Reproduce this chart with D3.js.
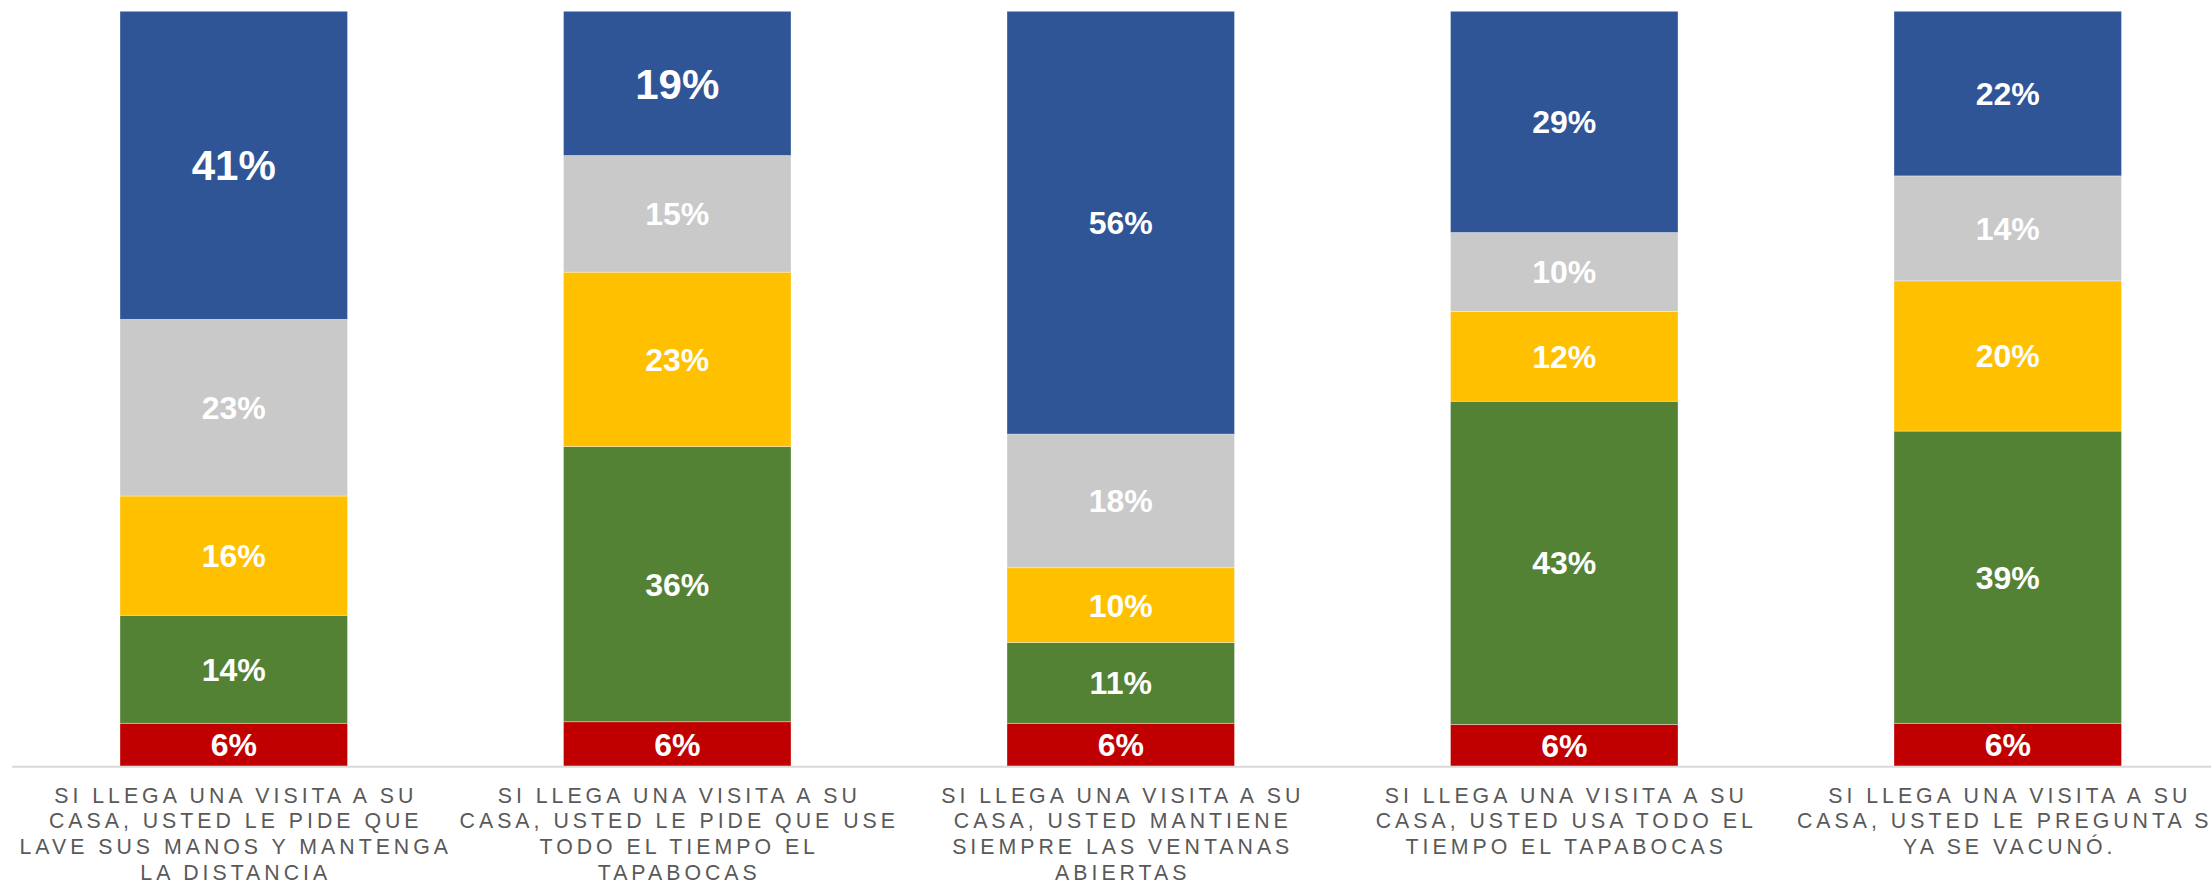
<!DOCTYPE html>
<html>
<head>
<meta charset="utf-8">
<script src="https://cdn.jsdelivr.net/npm/d3@7"></script>
<style>
  html, body { margin: 0; padding: 0; background: #ffffff; overflow: hidden; }
  svg { display: block; }
</style>
</head>
<body>
<svg id="chart"></svg>
<script>
// ---------- DATA ----------
const categories = ["c1", "c2", "c3", "c4", "c5"];
const categoryLabels = [
  ["SI LLEGA UNA VISITA A SU", "CASA, USTED LE PIDE QUE", "LAVE SUS MANOS Y MANTENGA", "LA DISTANCIA"],
  ["SI LLEGA UNA VISITA A SU", "CASA, USTED LE PIDE QUE USE", "TODO EL TIEMPO EL", "TAPABOCAS"],
  ["SI LLEGA UNA VISITA A SU", "CASA, USTED MANTIENE", "SIEMPRE LAS VENTANAS", "ABIERTAS"],
  ["SI LLEGA UNA VISITA A SU", "CASA, USTED USA TODO EL", "TIEMPO EL TAPABOCAS"],
  ["SI LLEGA UNA VISITA A SU", "CASA, USTED LE PREGUNTA SI", "YA SE VACUNÓ."]
];
// series, bottom to top (percent)
const seriesNames = ["rojo", "verde", "amarillo", "gris", "azul"];
const rojo     = [5.7, 5.9, 5.7, 5.55, 5.7];
const verde    = [14.3, 36.45, 10.7, 42.8, 38.7];
const amarillo = [15.8, 23.1, 9.9, 11.9, 19.9];
const gris     = [23.4, 15.45, 17.7, 10.45, 13.9];
const azul     = [40.8, 19.1, 56.0, 29.3, 21.8];

// ---------- STYLE ----------
const W = 2211, H = 883;
const colors = { rojo: "#C00000", verde: "#548235", amarillo: "#FFC000", gris: "#C9C9C9", azul: "#2F5597" };
const bigLabelKeys = new Set(["azul|c1", "azul|c2"]);

const rows = categories.map((c, i) => ({
  cat: c, rojo: rojo[i], verde: verde[i], amarillo: amarillo[i], gris: gris[i], azul: azul[i]
}));

const stacked = d3.stack().keys(seriesNames).offset(d3.stackOffsetExpand)(rows);

const svg = d3.select("#chart").attr("width", W).attr("height", H);

const x = d3.scaleBand().domain(categories)
  .range([12, 12 + 5 * 443.5])
  .paddingInner(0.487).paddingOuter(0.2435);
const y = d3.scaleLinear().domain([0, 1]).range([766.3, 11.3]);

const fmt = d3.format(".0%");

const layers = svg.append("g").selectAll("g.layer").data(stacked).join("g")
  .attr("class", "layer")
  .attr("fill", d => colors[d.key]);

layers.selectAll("rect").data(d => d.map(p => Object.assign(p, { key: d.key }))).join("rect")
  .attr("x", d => x(d.data.cat))
  .attr("width", x.bandwidth())
  .attr("y", d => y(d[1]))
  .attr("height", d => y(d[0]) - y(d[1]))
  .attr("stroke", "#ffffff")
  .attr("stroke-opacity", 0.45)
  .attr("stroke-width", 0.75);

// axis line
svg.append("line")
  .attr("x1", 12).attr("x2", W)
  .attr("y1", y(0) + 0.5).attr("y2", y(0) + 0.5)
  .attr("stroke", "#D9D9D9").attr("stroke-width", 2);

// data labels
const labels = svg.append("g");
stacked.forEach(layer => {
  layer.forEach((p, i) => {
    const big = bigLabelKeys.has(layer.key + "|" + p.data.cat);
    const val = rows[i][layer.key] / 100;
    labels.append("text")
      .attr("x", x(p.data.cat) + x.bandwidth() / 2)
      .attr("y", (y(p[0]) + y(p[1])) / 2)
      .attr("dy", "0.36em")
      .attr("text-anchor", "middle")
      .attr("font-family", "'Liberation Sans', Arial, sans-serif")
      .attr("font-weight", "bold")
      .attr("font-size", big ? 42 : 32)
      .attr("fill", "#ffffff")
      .text(fmt(val));
  });
});

// category labels
const catG = svg.append("g");
categories.forEach((c, i) => {
  const t = catG.append("text")
    .attr("text-anchor", "middle")
    .attr("font-family", "'Liberation Sans', Arial, sans-serif")
    .attr("font-size", 21.3)
    .attr("letter-spacing", "4px")
    .attr("fill", "#595959");
  categoryLabels[i].forEach((line, j) => {
    t.append("tspan")
      .attr("x", x(c) + x.bandwidth() / 2 + 2)
      .attr("y", 802.5 + j * 25.7)
      .text(line);
  });
});
</script>
</body>
</html>
